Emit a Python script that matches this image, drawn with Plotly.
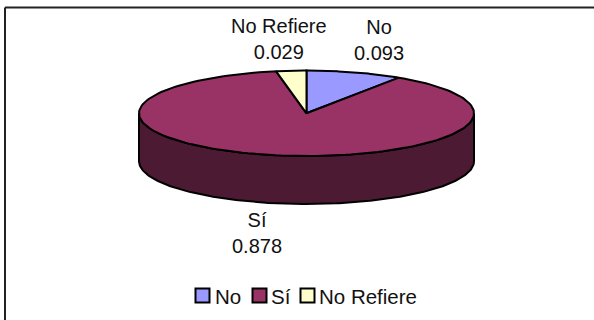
import numpy as np
import plotly.graph_objects as go

categories = ["No", "Sí", "No Refiere"]
shares = [0.093, 0.878, 0.029]
top_colors = ["#9999FF", "#993366", "#FFFFCC"]
side_color = "#4C1A33"
outline = "#000000"
text_color = "#111111"

# Ellipse geometry in pixel-like axis units
cx, cy = 306.5, 113.3
rx, ry = 167.5, 42.7
depth = 48


def rim(a0, a1, n=160):
    t = np.linspace(a0, a1, n)
    return cx + rx * np.sin(t), cy - ry * np.cos(t)


fig = go.Figure()

# Extruded side wall, drawn first so the top face covers its upper half
ta = np.linspace(np.pi / 2, 3 * np.pi / 2, 200)
xs = cx + rx * np.sin(ta)
ys = cy - ry * np.cos(ta)
fig.add_trace(go.Scatter(
    x=np.r_[xs, xs[::-1], xs[0]],
    y=np.r_[ys, ys[::-1] + depth, ys[0]],
    mode="lines", fill="toself", fillcolor=side_color,
    line=dict(color=outline, width=2), hoverinfo="skip", showlegend=False,
))

# Top-face slices, clockwise from twelve o'clock
start = 0.0
total = sum(shares)
for name, share, color in zip(categories, shares, top_colors):
    end = start + share / total * 2 * np.pi
    ex, ey = rim(start, end)
    fig.add_trace(go.Scatter(
        x=np.r_[cx, ex, cx], y=np.r_[cy, ey, cy],
        mode="lines", fill="toself", fillcolor=color,
        line=dict(color=outline, width=2), name=name, showlegend=False,
    ))
    start = end

label_xy = {"No": (379, 40), "Sí": (257, 232.5), "No Refiere": (279, 38.5)}
for name, share in zip(categories, shares):
    lx, ly = label_xy[name]
    fig.add_annotation(
        x=lx, y=ly, text=f"{name}<br>{share:.3f}", showarrow=False,
        font=dict(family="Liberation Sans", size=20, color=text_color),
    )

# Legend drawn as swatches and labels along the bottom of the frame
swatch_x = [202.5, 259.5, 307.5]
legend_text_x = [213, 269, 317]
for name, color, sx, tx in zip(categories, top_colors, swatch_x, legend_text_x):
    fig.add_trace(go.Scatter(
        x=[sx], y=[295.5], mode="markers",
        marker=dict(symbol="square", size=14, color=color, line=dict(color=outline, width=2)),
        showlegend=False, hoverinfo="skip",
    ))
    fig.add_annotation(
        x=tx, y=296.5, text=name, showarrow=False, xanchor="left",
        font=dict(family="Liberation Sans", size=20.5, color=text_color),
    )

# Only the top and left edges of the chart frame fall inside the page
frame = [dict(x0=5, y0=7.5, x1=594, y1=7.5), dict(x0=5, y0=7.5, x1=5, y1=320)]
fig.update_layout(
    width=594, height=320, margin=dict(l=0, r=0, t=0, b=0),
    paper_bgcolor="white", plot_bgcolor="white", showlegend=False,
    xaxis=dict(range=[0, 594], visible=False, fixedrange=True),
    yaxis=dict(range=[320, 0], visible=False, fixedrange=True),
    shapes=[dict(type="line", xref="x", yref="y", line=dict(color="#222222", width=2), **f)
            for f in frame],
)

fig.write_html("out.html")
